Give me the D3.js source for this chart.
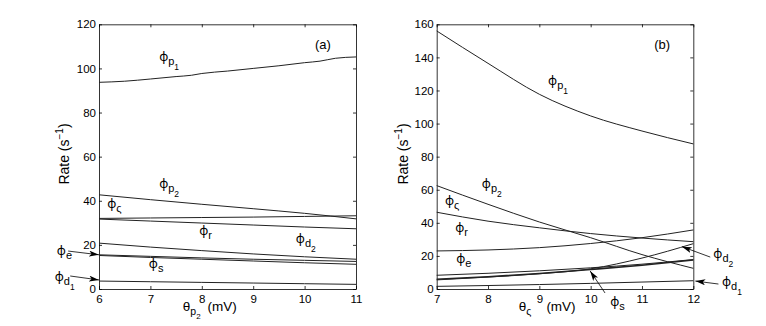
<!DOCTYPE html>
<html>
<head>
<meta charset="utf-8">
<script src="https://cdn.jsdelivr.net/npm/d3@7"></script>
<style>
body { margin: 0; background: #fff; }
text { font-family: "Liberation Sans", Arial, sans-serif; }
.phi { font-family: "Noto Sans", sans-serif; }
</style>
</head>
<body>
<svg id="chart" width="766" height="326"></svg>
<script>
// ---- panel (a): rates against theta_p2 ----
var xA = [6, 7, 8, 9, 10, 11];
var xA_p1 = [6, 6.5, 7, 7.5, 7.8, 8, 8.5, 9, 9.5, 10, 10.3, 10.6, 11];
var a_p1 = [93.7, 94.2, 95.2, 96.3, 96.9, 97.7, 98.8, 100, 101.2, 102.6, 103.3, 104.6, 105.2];
var a_p2 = [42.7, 40.5, 38.4, 36.4, 34.3, 31.8];
var a_sig = [32.0, 32.2, 32.4, 32.6, 32.9, 33.2];
var a_r = [31.7, 30.8, 29.9, 29.0, 28.1, 27.3];
var a_d2 = [20.8, 19.0, 17.4, 15.9, 14.6, 13.5];
var a_e = [15.5, 14.8, 14.1, 13.5, 13.0, 12.5];
var a_s = [15.2, 14.3, 13.5, 12.7, 11.9, 11.2];
var a_d1 = [3.6, 3.3, 3.0, 2.7, 2.4, 2.1];
var xTicksA = [6, 7, 8, 9, 10, 11];
var yTicksA = [0, 20, 40, 60, 80, 100, 120];

// ---- panel (b): rates against theta_sigma ----
var xB = [7, 8, 9, 10, 11, 12];
var b_p1 = [156, 136.4, 117.7, 104.6, 95.5, 87.7];
var b_p2 = [62.5, 51.2, 40.5, 31, 20.8, 12.5];
var b_sig = [46.4, 41, 37, 33.5, 30.8, 28.6];
var b_r = [23, 23.6, 25, 27.5, 31, 35.7];
var b_e = [8.3, 9.5, 11.0, 12.8, 15, 17.8];
var b_s = [5.9, 7.4, 9.4, 11.8, 14.4, 17.5];
var b_d2 = [5.5, 7.2, 9.2, 12.2, 18.7, 27.4];
var b_d1 = [1.6, 2.1, 2.7, 3.4, 4.2, 5.0];
var xTicksB = [7, 8, 9, 10, 11, 12];
var yTicksB = [0, 20, 40, 60, 80, 100, 120, 140, 160];

var PHI = "\u03D5";

var svg = d3.select("#chart");
var top_ = 24.3, bottom = 289;

function zip(xs, ys) {
	return xs.map(function (x, i) { return [x, ys[i]]; });
}

// phi label with subscript (and optional sub-subscript)
function phiLabel(g, px, py, sub, subsub) {
	var t = g.append("text")
		.attr("x", px)
		.attr("y", py)
		.attr("font-size", 13)
		.attr("fill", "#000");
	t.append("tspan").attr("class", "phi").attr("font-size", 12.5).text(PHI);
	t.append("tspan").attr("dy", 4).attr("font-size", 11).text(sub);
	if (subsub) {
		t.append("tspan").attr("dy", 5).attr("font-size", 8.5).text(subsub);
	}
}

function drawPanel(p) {
	var x = d3.scaleLinear().domain(p.xDomain).range([p.left, p.right]);
	var y = d3.scaleLinear().domain(p.yDomain).range([bottom, top_]);
	var g = svg.append("g");

	var axes = [
		g.append("g").attr("transform", "translate(0," + bottom + ")")
			.call(d3.axisBottom(x).tickValues(p.xTicks).tickSize(-3).tickSizeOuter(0).tickPadding(6).tickFormat(d3.format("d"))),
		g.append("g").attr("transform", "translate(0," + top_ + ")")
			.call(d3.axisTop(x).tickValues(p.xTicks).tickSize(-3).tickSizeOuter(0).tickFormat("")),
		g.append("g").attr("transform", "translate(" + p.left + ",0)")
			.call(d3.axisLeft(y).tickValues(p.yTicks).tickSize(-3).tickSizeOuter(0).tickPadding(3).tickFormat(d3.format("d"))),
		g.append("g").attr("transform", "translate(" + p.right + ",0)")
			.call(d3.axisRight(y).tickValues(p.yTicks).tickSize(-3).tickSizeOuter(0).tickFormat(""))
	];
	axes.forEach(function (a) {
		a.attr("font-family", null).attr("font-size", 11.5);
		a.selectAll("text").attr("fill", "#000");
		a.selectAll("line, path").attr("stroke", "#000").attr("stroke-width", 0.8);
	});

	var line = d3.line()
		.x(function (d) { return x(d[0]); })
		.y(function (d) { return y(d[1]); })
		.curve(d3.curveMonotoneX);

	p.series.forEach(function (s) {
		g.append("path")
			.datum(s.pts)
			.attr("fill", "none")
			.attr("stroke", "#222")
			.attr("stroke-width", s.w || 1)
			.attr("d", line);
	});

	p.labels.forEach(function (l) {
		phiLabel(g, x(l.x), y(l.y), l.sub, l.subsub);
	});

	p.arrows.forEach(function (a) {
		g.append("line")
			.attr("x1", x(a.from[0])).attr("y1", y(a.from[1]))
			.attr("x2", x(a.to[0])).attr("y2", y(a.to[1]))
			.attr("stroke", "#000")
			.attr("stroke-width", 0.8)
			.attr("marker-end", "url(#head)");
	});

	// panel tag
	g.append("text")
		.attr("x", x(p.tag.x)).attr("y", y(p.tag.y))
		.attr("font-size", 13)
		.text(p.tag.text);

	// x label
	var xl = g.append("text")
		.attr("x", x(p.xLabel.x)).attr("y", bottom + 22)
		.attr("font-size", 13.5);
	xl.append("tspan").text("\u03B8");
	xl.append("tspan").attr("dy", 4).attr("font-size", 10.5).text(p.xLabel.sub);
	if (p.xLabel.subsub) {
		xl.append("tspan").attr("dy", 4).attr("font-size", 8).text(p.xLabel.subsub);
	}
	xl.append("tspan").attr("dy", p.xLabel.subsub ? -8 : -4).attr("dx", p.xLabel.gap).text("(mV)");

	// y label
	var yl = g.append("text")
		.attr("transform", "translate(" + p.yLabelX + ",154) rotate(-90)")
		.attr("text-anchor", "middle")
		.attr("font-size", 14);
	yl.append("tspan").text("Rate (s");
	yl.append("tspan").attr("dy", -6).attr("font-size", 10).text("\u22121");
	yl.append("tspan").attr("dy", 6).text(")");
}

svg.append("defs").append("marker")
	.attr("id", "head")
	.attr("viewBox", "0 0 10 6")
	.attr("refX", 10).attr("refY", 3)
	.attr("markerWidth", 10).attr("markerHeight", 6)
	.attr("markerUnits", "userSpaceOnUse")
	.attr("orient", "auto")
	.append("path")
	.attr("d", "M0,0 L10,3 L0,6 L2.5,3 Z")
	.attr("fill", "#000");

drawPanel({
	xDomain: [6, 11], yDomain: [0, 120], left: 99, right: 356,
	xTicks: xTicksA, yTicks: yTicksA,
	series: [
		{ pts: zip(xA_p1, a_p1) },
		{ pts: zip(xA, a_p2) },
		{ pts: zip(xA, a_sig) },
		{ pts: zip(xA, a_r) },
		{ pts: zip(xA, a_d2) },
		{ pts: zip(xA, a_e) },
		{ pts: zip(xA, a_s) },
		{ pts: zip(xA, a_d1) }
	],
	labels: [
		{ sub: "p", subsub: "1", x: 7.17, y: 103.4 },
		{ sub: "p", subsub: "2", x: 7.17, y: 45.8 },
		{ sub: "\u03C2", x: 6.16, y: 36.7 },
		{ sub: "r", x: 7.95, y: 24.5 },
		{ sub: "d", subsub: "2", x: 9.83, y: 20.9 },
		{ sub: "e", x: 5.18, y: 15.4 },
		{ sub: "s", x: 6.97, y: 9.5 },
		{ sub: "d", subsub: "1", x: 5.14, y: 3.6 }
	],
	arrows: [
		{ from: [5.40, 17.2], to: [6.0, 15.5] },
		{ from: [5.44, 5.9], to: [6.0, 4.1] }
	],
	tag: { text: "(a)", x: 10.2, y: 108.8 },
	xLabel: { x: 7.63, sub: "p", subsub: "2", gap: 7 },
	yLabelX: 69
});

drawPanel({
	xDomain: [7, 12], yDomain: [0, 160], left: 436.7, right: 693.3,
	xTicks: xTicksB, yTicks: yTicksB,
	series: [
		{ pts: zip(xB, b_p1) },
		{ pts: zip(xB, b_p2) },
		{ pts: zip(xB, b_sig) },
		{ pts: zip(xB, b_r) },
		{ pts: zip(xB, b_e) },
		{ pts: zip(xB, b_s), w: 1.6 },
		{ pts: zip(xB, b_d2) },
		{ pts: zip(xB, b_d1) }
	],
	labels: [
		{ sub: "p", subsub: "1", x: 9.17, y: 123.3 },
		{ sub: "p", subsub: "2", x: 7.88, y: 61 },
		{ sub: "\u03C2", x: 7.16, y: 50.8 },
		{ sub: "r", x: 7.36, y: 34.5 },
		{ sub: "e", x: 7.38, y: 15.7 },
		{ sub: "s", x: 10.38, y: -10.3 },
		{ sub: "d", subsub: "2", x: 12.39, y: 18.7 },
		{ sub: "d", subsub: "1", x: 12.56, y: 1.8 }
	],
	arrows: [
		{ from: [10.28, -2.4], to: [9.99, 10.9] },
		{ from: [12.33, 19.3], to: [11.78, 25.6] },
		{ from: [12.49, 3.0], to: [12.04, 4.8] }
	],
	tag: { text: "(b)", x: 11.24, y: 145 },
	xLabel: { x: 8.6, sub: "\u03C2", gap: 15 },
	yLabelX: 408
});
</script>
</body>
</html>
